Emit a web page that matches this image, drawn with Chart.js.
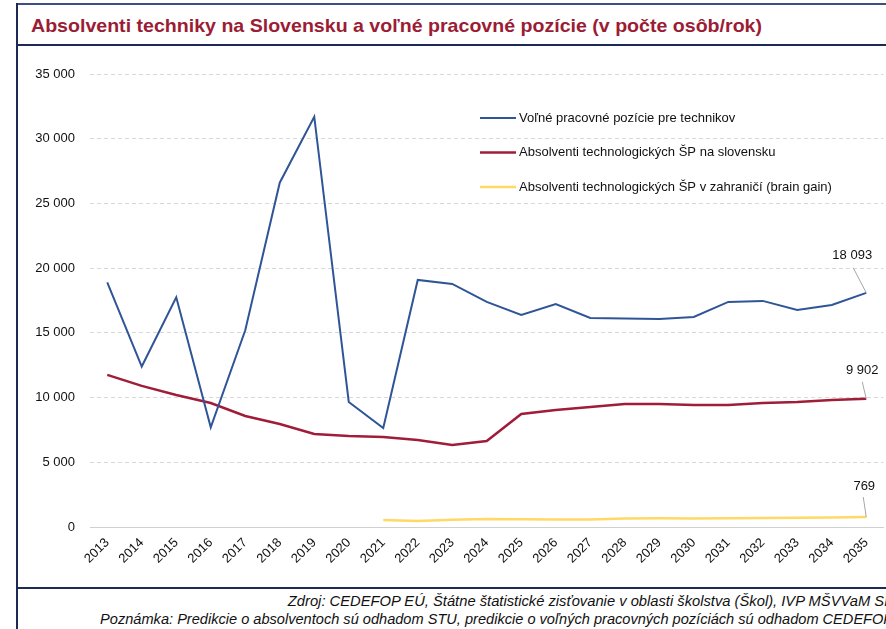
<!DOCTYPE html>
<html><head><meta charset="utf-8">
<script src="https://cdn.jsdelivr.net/npm/chart.js@4"></script>
<style>
html,body{margin:0;padding:0;background:#fff;overflow:hidden;}
#wrap{position:relative;width:886px;height:629px;overflow:hidden;font-family:"Liberation Sans",Arial,sans-serif;}
.hl{position:absolute;left:17px;width:900px;background:#1c2a55;}
.vl{position:absolute;left:16px;top:3px;width:2px;height:640px;background:#1c2a55;}
#title{position:absolute;left:31px;top:15px;font-weight:bold;font-size:19px;color:#9b1c34;white-space:nowrap;transform-origin:0 0;}
.foot{position:absolute;font-style:italic;font-size:14px;color:#111;white-space:nowrap;transform-origin:100% 0;}
#cv{position:absolute;left:18px;top:47px;}
</style></head><body>
<div id="wrap">
  <div class="hl" style="top:3px;height:2px;background:#3b4f80"></div>
  <div class="hl" style="top:44px;height:2px"></div>
  <div class="hl" style="top:587px;height:2px"></div>
  <div class="vl"></div>
  <div id="title">Absolventi techniky na Slovensku a voľné pracovné pozície (v počte osôb/rok)</div>
  <div class="foot" id="f1">Zdroj: CEDEFOP EÚ, Štátne štatistické zisťovanie v oblasti školstva (Škol), IVP MŠVVaM SR</div>
  <div class="foot" id="f2">Poznámka: Predikcie o absolventoch sú odhadom STU, predikcie o voľných pracovných pozíciách sú odhadom CEDEFOP</div>
  <canvas id="cv" width="868" height="540"></canvas>
</div>
<script>
const years = ["2013","2014","2015","2016","2017","2018","2019","2020","2021","2022","2023","2024","2025","2026","2027","2028","2029","2030","2031","2032","2033","2034","2035"];
const vacancies = [18900,12400,17750,7700,15200,26600,31700,9660,7650,19090,18780,17390,16380,17230,16150,16100,16070,16230,17390,17470,16770,17150,18093];
const gradsSK = [11750,10900,10200,9580,8580,7960,7190,7030,6960,6720,6340,6650,8730,9040,9270,9500,9500,9430,9430,9580,9660,9820,9902];
const gradsAbroad = [null,null,null,null,null,null,null,null,540,460,560,620,600,580,580,650,680,660,680,700,720,740,769];
const seriesLabels = ["Voľné pracovné pozície pre technikov","Absolventi technologických ŠP na slovensku","Absolventi technologických ŠP v zahraničí (brain gain)"];
const yTicks = [0,5000,10000,15000,20000,25000,30000,35000];

function fit(el, w){
  const r = el.getBoundingClientRect();
  el.style.transform = 'scaleX(' + (w / r.width) + ')';
}
const t = document.getElementById('title'); fit(t, 731);
const f1 = document.getElementById('f1'), f2 = document.getElementById('f2');
f1.style.right = (886-895)+'px'; f1.style.top='593px';
f2.style.right = (886-893)+'px'; f2.style.top='611px';
fit(f1, 607); fit(f2, 793);

const fmt = v => String(v).replace(/\B(?=(\d{3})+(?!\d))/g, ' ');
const colors = ['#2f5597','#a01d3a','#ffd966'];

const legendPlugin = {
  id:'customLegend',
  afterDraw(chart){
    const ctx = chart.ctx;
    ctx.save();
    ctx.font = '13px "Liberation Sans", Arial, sans-serif';
    ctx.textBaseline = 'middle';
    ctx.fillStyle = '#111';
    chart.data.datasets.forEach((ds,i)=>{
      const y = 71 + i*34.5;
      ctx.strokeStyle = ds.borderColor; ctx.lineWidth = ds.borderWidth;
      ctx.beginPath(); ctx.moveTo(462,y); ctx.lineTo(498,y); ctx.stroke();
      ctx.fillText(ds.label, 501, y);
    });
    ctx.restore();
  }
};
const offsets = [[-14,-37,-13,-25],[-4,-28,-4,-17],[-2,-31,-3,-20]];
const endLabelPlugin = {
  id:'endLabels',
  afterDatasetsDraw(chart){
    const ctx = chart.ctx;
    ctx.save();
    ctx.font = '13px "Liberation Sans", Arial, sans-serif';
    ctx.textAlign='center'; ctx.textBaseline='middle'; ctx.fillStyle='#111';
    chart.data.datasets.forEach((ds,i)=>{
      const meta = chart.getDatasetMeta(i);
      const n = ds.data.length-1;
      const p = meta.data[n];
      const o = offsets[i];
      ctx.strokeStyle='#a6a6a6'; ctx.lineWidth=1;
      ctx.beginPath(); ctx.moveTo(p.x+o[2],p.y+o[3]); ctx.lineTo(p.x,p.y); ctx.stroke();
      ctx.fillText(fmt(ds.data[n]), p.x+o[0], p.y+o[1]);
    });
    ctx.restore();
  }
};

new Chart(document.getElementById('cv'), {
  type:'line',
  data:{labels:years, datasets:[
    {label:seriesLabels[0], data:vacancies, borderColor:colors[0], borderWidth:2, pointRadius:0, tension:0},
    {label:seriesLabels[1], data:gradsSK, borderColor:colors[1], borderWidth:2.5, pointRadius:0, tension:0},
    {label:seriesLabels[2], data:gradsAbroad, borderColor:colors[2], borderWidth:2.5, pointRadius:0, tension:0, spanGaps:false}
  ]},
  options:{
    responsive:false, animation:false,
    layout:{padding:{top:27,right:2.5,bottom:0,left:0}},
    plugins:{legend:{display:false}, tooltip:{enabled:false}},
    scales:{
      x:{offset:true, grid:{display:false, drawTicks:false}, border:{display:true,color:'#d0d0d0',width:1},
         ticks:{font:{size:13,family:'"Liberation Sans", Arial, sans-serif'}, color:'#111', maxRotation:45, minRotation:45, padding:8, autoSkip:false},
         afterFit(s){ s.height = 60; }},
      y:{min:0,max:35000, afterBuildTicks(s){ s.ticks = yTicks.map(v=>({value:v})); },
         grid:{drawTicks:false, color:'#d9d9d9', lineWidth:1}, border:{display:false, dash:[4,3]},
         ticks:{font:{size:13,family:'"Liberation Sans", Arial, sans-serif'}, color:'#111', padding:15, callback:v=>fmt(v)},
         afterFit(s){ s.width = 72; }}
    }
  },
  plugins:[legendPlugin,endLabelPlugin]
});
</script>
</body></html>
